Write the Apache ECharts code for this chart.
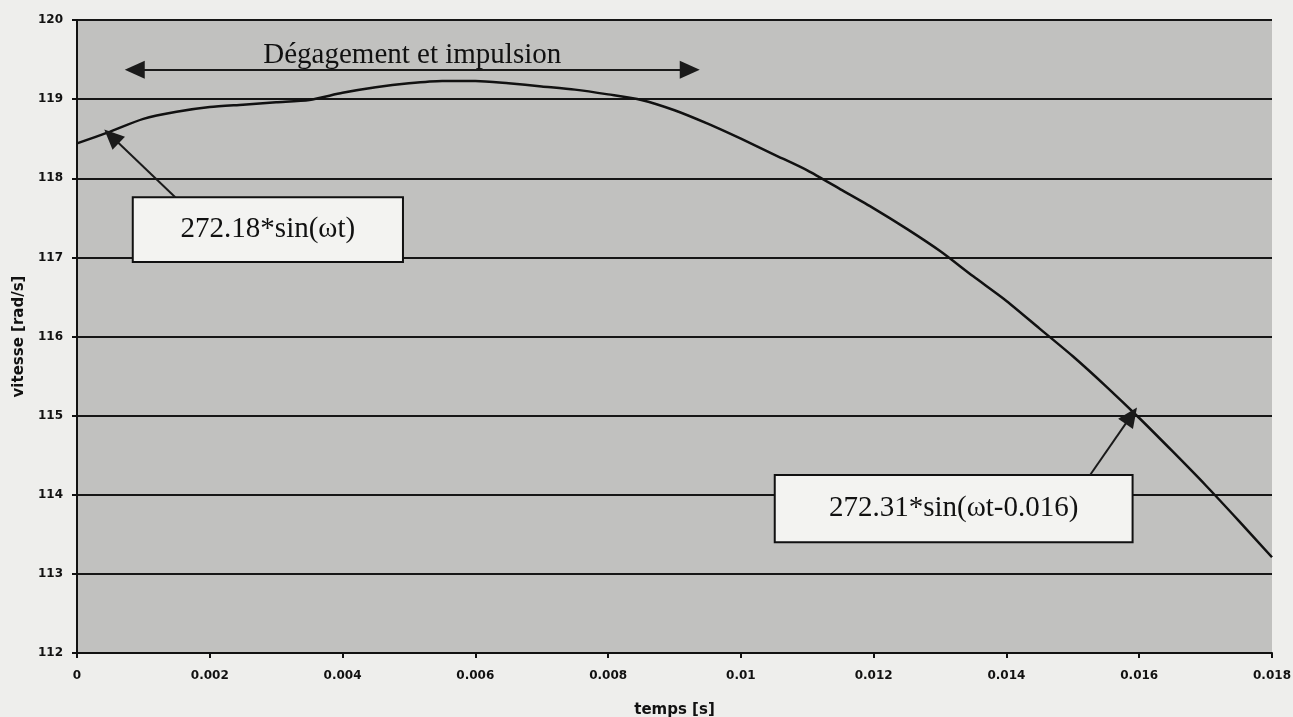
<!DOCTYPE html>
<html>
<head>
<meta charset="utf-8">
<title>vitesse / temps</title>
<script src="https://cdn.jsdelivr.net/npm/echarts@6/dist/echarts.min.js"></script>
<style>
    html, body {margin: 0; padding: 0; background: #eeeeec;}
    #chart {width: 1293px; height: 717px;}
</style>
</head>
<body>
<div id="chart"></div>
<script>
    // temps [s]
    const tVals = [0, 0.0005, 0.001, 0.0015, 0.002, 0.0025, 0.003, 0.0035, 0.004, 0.0045,
        0.005, 0.0055, 0.006, 0.0065, 0.007, 0.0075, 0.008, 0.0085, 0.009, 0.0095,
        0.010, 0.0105, 0.011, 0.0115, 0.012, 0.0125, 0.013, 0.0135, 0.014, 0.0145,
        0.015, 0.0155, 0.016, 0.0165, 0.017, 0.0175, 0.018]
    // vitesse [rad/s]
    const vVals = [118.44, 118.59, 118.75, 118.84, 118.90, 118.93, 118.96, 118.99, 119.08, 119.15,
        119.20, 119.23, 119.23, 119.20, 119.16, 119.12, 119.06, 118.99, 118.86, 118.69,
        118.50, 118.30, 118.10, 117.86, 117.62, 117.36, 117.08, 116.76, 116.45, 116.10,
        115.75, 115.37, 114.97, 114.55, 114.12, 113.67, 113.21]

    // axes : [min, max, interval]
    const xRange = [0, 0.018, 0.002]
    const yRange = [112, 120, 1]

    // annotations, in data units [t, v]
    const spanArrow = [[0.00087, 119.37], [0.00923, 119.37]]
    const spanText = 'Dégagement et impulsion'
    const box1 = [[0.00084, 117.76], [0.00491, 116.94]]
    const box1Text = '272.18*sin(ωt)'
    const arrow1 = [[0.00148, 117.76], [0.00052, 118.53]]
    const box2 = [[0.01051, 114.25], [0.0159, 113.40]]
    const box2Text = '272.31*sin(ωt-0.016)'
    const arrow2 = [[0.01526, 114.25], [0.01588, 115.0]]

    const chartInstance = echarts.init(document.getElementById('chart'))

    //tick labels
    const tickFont = {
        color: '#111',
        fontFamily: 'DejaVu Sans',
        fontWeight: 'bold',
        fontSize: 12
    }
    //axis names
    const nameFont = {
        color: '#111',
        fontFamily: 'DejaVu Sans',
        fontWeight: 'bold',
        fontSize: 15
    }
    const serif = 'Liberation Serif'

    const option = {
        backgroundColor: '#eeeeec',
        animation: false,
        grid: {
            left: 77,
            right: 21,
            top: 20,
            bottom: 64,
            outerBoundsMode: 'none',
            containLabel: false,
            show: true,
            backgroundColor: '#c1c1bf',
            borderWidth: 0
        },
        xAxis: {
            type: 'value',
            min: xRange[0],
            max: xRange[1],
            interval: xRange[2],
            name: 'temps [s]',
            nameLocation: 'middle',
            nameGap: 50,
            nameTextStyle: nameFont,
            axisLine: {lineStyle: {color: '#111', width: 2}},
            axisTick: {show: true, length: 5, lineStyle: {color: '#111', width: 2}},
            axisLabel: Object.assign({
                margin: 17,
                formatter: v => String(parseFloat(v.toFixed(3)))
            }, tickFont),
            splitLine: {show: false}
        },
        yAxis: {
            type: 'value',
            min: yRange[0],
            max: yRange[1],
            interval: yRange[2],
            name: 'vitesse [rad/s]',
            nameLocation: 'middle',
            nameGap: 49,
            nameRotate: 90,
            nameTextStyle: nameFont,
            axisLine: {show: true, lineStyle: {color: '#111', width: 2}},
            axisTick: {show: true, length: 5, lineStyle: {color: '#111', width: 2}},
            axisLabel: Object.assign({margin: 14}, tickFont),
            splitLine: {show: true, lineStyle: {color: '#161616', width: 2}}
        },
        series: [
            {
                type: 'line',
                data: tVals.map((t, i) => [t, vVals[i]]),
                showSymbol: false,
                smooth: 0.25,
                lineStyle: {color: '#111', width: 2.5},
                silent: true,
                markArea: {
                    silent: true,
                    itemStyle: {color: '#f3f3f1', borderColor: '#111', borderWidth: 2},
                    label: {
                        position: 'inside',
                        color: '#111',
                        fontFamily: serif,
                        fontSize: 29
                    },
                    data: [
                        [{coord: box1[0], name: box1Text}, {coord: box1[1]}],
                        [{coord: box2[0], name: box2Text}, {coord: box2[1]}]
                    ]
                },
                markLine: {
                    silent: true,
                    animation: false,
                    lineStyle: {color: '#1a1a1a', width: 2, type: 'solid'},
                    symbolSize: [18, 20],
                    label: {show: false},
                    emphasis: {disabled: true},
                    data: [
                        [
                            {
                                coord: spanArrow[0],
                                symbol: 'triangle',
                                label: {
                                    show: true,
                                    position: 'insideMiddleTop',
                                    formatter: spanText,
                                    distance: 0,
                                    color: '#111',
                                    fontFamily: serif,
                                    fontSize: 29
                                }
                            },
                            {coord: spanArrow[1], symbol: 'triangle'}
                        ],
                        [{coord: arrow1[0], symbol: 'none'}, {coord: arrow1[1], symbol: 'triangle'}],
                        [{coord: arrow2[0], symbol: 'none'}, {coord: arrow2[1], symbol: 'triangle'}]
                    ]
                }
            }
        ]
    }
    chartInstance.setOption(option)
</script>
</body>
</html>
